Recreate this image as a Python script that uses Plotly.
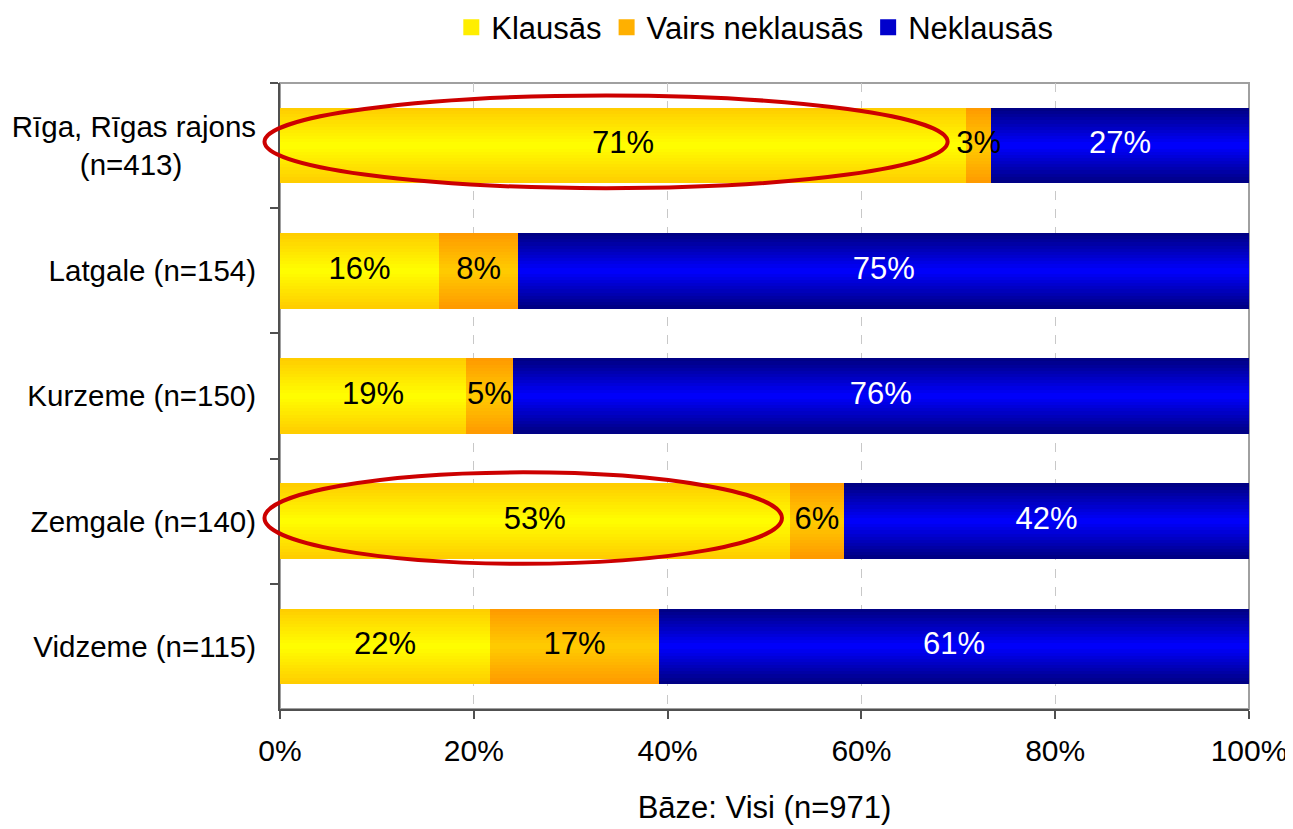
import plotly.graph_objects as go

# ---- data ----
categories = ["Rīga, Rīgas rajons<br>(n=413)\u00a0\u00a0\u00a0\u00a0\u00a0\u00a0\u00a0\u00a0\u00a0",
              "Latgale (n=154)", "Kurzeme (n=150)", "Zemgale (n=140)", "Vidzeme (n=115)"]
series_names = ["Klausās", "Vairs neklausās", "Neklausās"]
klausas = [70.8, 16.4, 19.2, 52.6, 21.7]
vairs_neklausas = [2.6, 8.2, 4.8, 5.6, 17.4]
neklausas = [26.6, 75.4, 76.0, 41.8, 60.9]
x_tickvals = [0, 20, 40, 60, 80, 100]
x_ticktext = ["0%", "20%", "40%", "60%", "80%", "100%"]
x_title = "Bāze: Visi (n=971)"

series_values = [klausas, vairs_neklausas, neklausas]
# gradient: (edge colour, centre colour), legend colour, label colour
edge_colors = [(255, 204, 0), (255, 153, 0), (0, 0, 128)]
center_colors = [(255, 255, 0), (255, 204, 0), (0, 0, 255)]
legend_colors = ["#FFEE00", "#FFB000", "#0000CC"]
label_colors = ["black", "black", "white"]

FONT = "Liberation Sans, Arial, sans-serif"
BAR_W = 0.6
N_BANDS = 24

fig = go.Figure()

bases = [0.0] * len(categories)
for si, vals in enumerate(series_values):
    b = list(bases)
    band_h = BAR_W / N_BANDS
    for k in range(N_BANDS):
        pos = (k + 0.5) / N_BANDS  # 0..1
        t = 1 - abs(pos - 0.5) * 2  # 0 at edges, 1 at centre
        e, c = edge_colors[si], center_colors[si]
        col = "rgb(%d,%d,%d)" % tuple(round(e[i] + (c[i] - e[i]) * t) for i in range(3))
        fig.add_trace(go.Bar(
            y=categories, x=vals, base=b, orientation="h",
            width=band_h * 1.15, offset=-BAR_W / 2 + k * band_h - band_h * 0.05,
            marker=dict(color=col, line=dict(width=0)),
            showlegend=False, hoverinfo="skip",
        ))
    # legend entry
    fig.add_trace(go.Scatter(
        y=[None], x=[None], mode="markers", name=series_names[si],
        marker=dict(color=legend_colors[si], symbol="square", size=17, line=dict(width=0)),
        showlegend=True,
    ))
    # labels
    fig.add_trace(go.Scatter(
        y=categories, x=[b[i] + vals[i] / 2 for i in range(len(vals))],
        mode="text", text=["%d%%" % round(v) for v in vals],
        textfont=dict(family=FONT, size=31, color=label_colors[si]),
        showlegend=False, hoverinfo="skip",
    ))
    bases = [bases[i] + vals[i] for i in range(len(vals))]

# highlight ellipses (x in paper fraction of the 0-100% axis so they may cross the axis line)
fig.add_shape(type="circle", xref="paper", yref="y", x0=-0.016, x1=0.689, y0=-0.40, y1=0.34,
              line=dict(color="#CC0000", width=4), layer="above")
fig.add_shape(type="circle", xref="paper", yref="y", x0=-0.016, x1=0.518, y0=2.61, y1=3.34,
              line=dict(color="#CC0000", width=4), layer="above")
# plot border (top/right)
fig.add_shape(type="rect", xref="paper", yref="paper", x0=0, x1=1, y0=0, y1=1,
              line=dict(color="#A0A0A0", width=2), layer="between")

fig.update_layout(
    width=1285, height=821,
    barmode="overlay",
    bargap=0,
    paper_bgcolor="white", plot_bgcolor="white",
    margin=dict(l=272, r=44, t=75, b=120, autoexpand=False),
    font=dict(family=FONT, size=30, color="black"),
    legend=dict(orientation="h", x=0.49, xanchor="center", xref="paper",
                y=0.976, yanchor="middle", yref="container",
                font=dict(family=FONT, size=31), itemwidth=30, tracegroupgap=0,
                bgcolor="rgba(0,0,0,0)"),
    showlegend=True,
)
fig.update_xaxes(
    range=[0, 100], tickvals=x_tickvals, ticktext=x_ticktext,
    showgrid=True, gridcolor="#C8C8C8", griddash="dash", gridwidth=1,
    showline=True, linecolor="#505050", linewidth=2,
    ticks="outside", ticklen=8, tickcolor="#505050", tickwidth=2,
    zeroline=False, ticklabelstandoff=6,
    tickfont=dict(family=FONT, size=30),
    title=dict(text=x_title, font=dict(family=FONT, size=31), standoff=30),
    automargin=False,
)
fig.update_yaxes(
    type="category", categoryorder="array", categoryarray=categories,
    autorange="reversed",
    showline=True, linecolor="#505050", linewidth=2,
    ticks="outside", ticklen=8, tickcolor="#505050", tickwidth=2, tickson="boundaries",
    showgrid=False, zeroline=False, ticklabelstandoff=16,
    tickfont=dict(family=FONT, size=29.5),
    automargin=False,
)

fig.write_html("out.html")
